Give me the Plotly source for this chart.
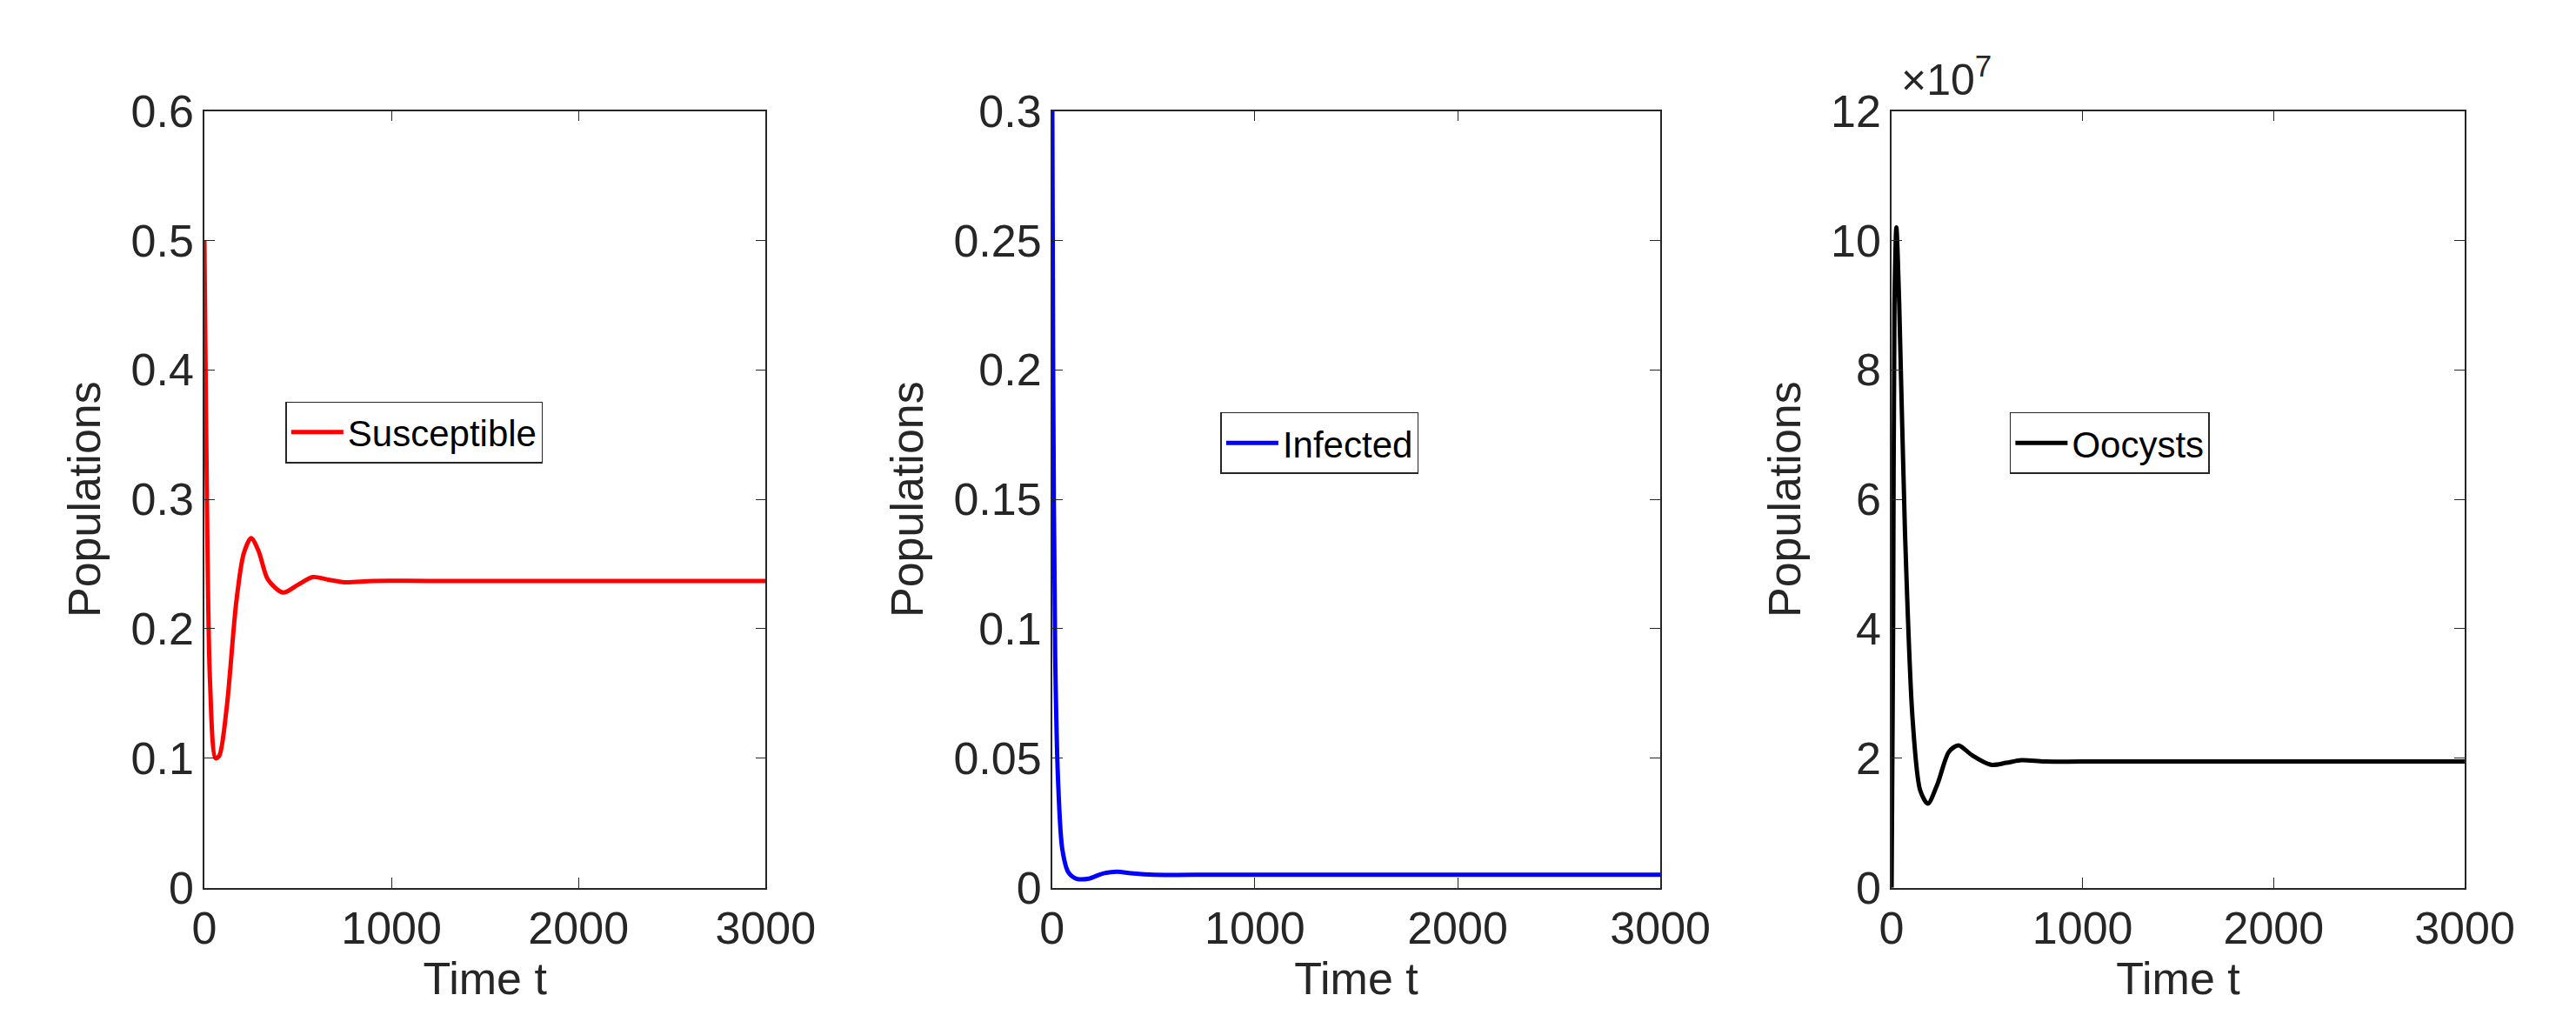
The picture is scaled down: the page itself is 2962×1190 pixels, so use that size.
import plotly.graph_objects as go

t_s = [0, 10, 30, 60, 80, 120, 170, 210, 250, 290, 340, 420, 500, 580, 660, 750, 900, 1200, 3000]
susceptible = [0.5, 0.35, 0.16, 0.10, 0.102, 0.14, 0.22, 0.258, 0.27, 0.26, 0.238, 0.228, 0.234, 0.240, 0.238, 0.236, 0.237, 0.237, 0.237]

t_i = [0, 5, 15, 30, 50, 80, 120, 180, 250, 320, 400, 500, 700, 3000]
infected = [0.32, 0.2, 0.09, 0.04, 0.015, 0.006, 0.0035, 0.0035, 0.0055, 0.0062, 0.0055, 0.005, 0.005, 0.005]

t_o = [0, 8, 15, 25, 40, 70, 110, 150, 190, 240, 300, 350, 420, 520, 600, 680, 800, 1000, 3000]
oocysts = [0, 4.0e7, 9.0e7, 10.2e7, 9.0e7, 5.5e7, 2.6e7, 1.5e7, 1.3e7, 1.6e7, 2.1e7, 2.2e7, 2.05e7, 1.9e7, 1.93e7, 1.97e7, 1.95e7, 1.95e7, 1.95e7]

y1_ticks = [0, 0.1, 0.2, 0.3, 0.4, 0.5, 0.6]
y2_ticks = [0, 0.05, 0.1, 0.15, 0.2, 0.25, 0.3]
y3_ticks = [0, 2e7, 4e7, 6e7, 8e7, 10e7, 12e7]
y3_labels = ["0", "2", "4", "6", "8", "10", "12"]
x_ticks = [0, 1000, 2000, 3000]

FONT = "Liberation Sans, Arial, sans-serif"
fig = go.Figure()
fig.add_trace(go.Scatter(x=t_s, y=susceptible, mode="lines", name="Susceptible", showlegend=True,
                         line=dict(color="#ff0000", width=5, shape="spline", smoothing=0.8),
                         xaxis="x", yaxis="y", legend="legend"))
fig.add_trace(go.Scatter(x=t_i, y=infected, mode="lines", name="Infected", showlegend=True,
                         line=dict(color="#0000ff", width=5, shape="spline", smoothing=0.8),
                         xaxis="x2", yaxis="y2", legend="legend2"))
fig.add_trace(go.Scatter(x=t_o, y=oocysts, mode="lines", name="Oocysts", showlegend=True,
                         line=dict(color="#000000", width=5, shape="spline", smoothing=0.8),
                         xaxis="x3", yaxis="y3", legend="legend3"))

doms = [(0.0737, 0.297), (0.411, 0.653), (0.745, 0.973)]
ydom = (0.131, 0.92)
common = dict(showline=True, linecolor="#262626", linewidth=1.5, mirror="ticks",
              ticks="inside", ticklen=12, tickcolor="#262626", showgrid=False,
              zeroline=False, tickfont=dict(size=52, color="#262626", family=FONT))
layout = dict(width=2962, height=1190, margin=dict(l=0, r=0, t=0, b=0), showlegend=True,
              plot_bgcolor="white", paper_bgcolor="white", font=dict(family=FONT))
ys = [(y1_ticks, None, [0, 0.6]), (y2_ticks, None, [0, 0.3]), (y3_ticks, y3_labels, [0, 12e7])]
for i in range(3):
    sfx = "" if i == 0 else str(i + 1)
    layout["xaxis" + sfx] = dict(common, domain=doms[i], range=[0, 3000], tickvals=x_ticks,
                                 anchor="y" + sfx,
                                 title=dict(text="Time t", font=dict(size=52, color="#262626"), standoff=4))
    tv, tt, rg = ys[i]
    yd = dict(common, domain=ydom, range=rg, tickvals=tv, anchor="x" + sfx,
              title=dict(text="Populations", font=dict(size=52, color="#262626"), standoff=18))
    if tt:
        yd["ticktext"] = tt
    layout["yaxis" + sfx] = yd

leg = dict(bgcolor="white", bordercolor="#262626", borderwidth=1.5,
           font=dict(size=42, color="black", family=FONT), xanchor="left", yanchor="top",
           xref="paper", yref="paper", itemwidth=60)
layout["legend"] = dict(leg, x=0.106, y=0.625)
layout["legend2"] = dict(leg, x=0.478, y=0.614)
layout["legend3"] = dict(leg, x=0.792, y=0.614)
fig.update_layout(**layout)
fig.add_annotation(text="×10<sup>7</sup>", xref="paper", yref="paper", x=0.748, y=0.925,
                   xanchor="left", yanchor="bottom", showarrow=False,
                   font=dict(size=50, color="#262626", family=FONT))
fig.write_html("out.html")
